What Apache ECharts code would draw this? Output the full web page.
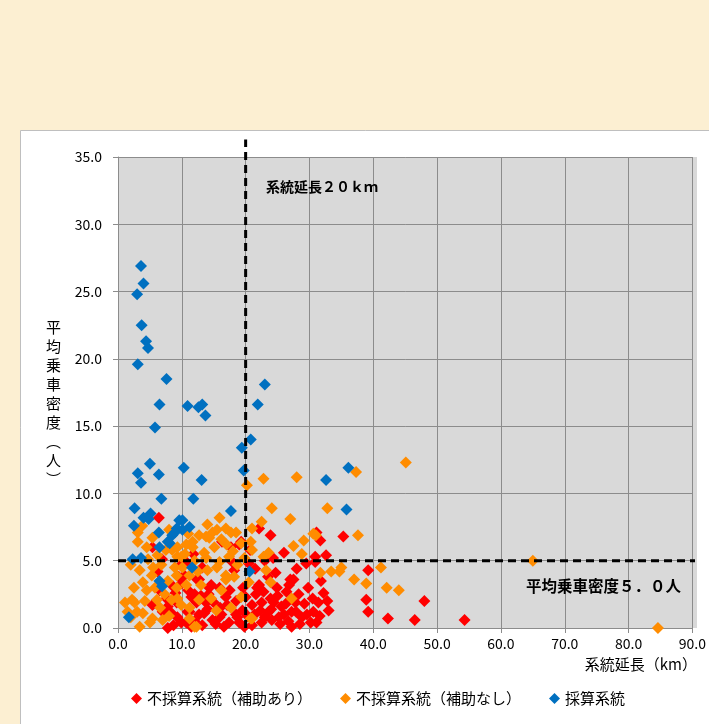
<!DOCTYPE html>
<html>
<head>
<meta charset="utf-8">
<script src="https://cdn.jsdelivr.net/npm/echarts@6/dist/echarts.min.js"></script>
<style>
  html, body { margin: 0; padding: 0; background: #FCEFD2; }
  #chart { width: 709px; height: 724px; }
</style>
</head>
<body>
<div id="chart"></div>
<script>
// 系列名
var seriesNames = ['不採算系統（補助あり）', '不採算系統（補助なし）', '採算系統'];

// [系統延長(km), 平均乗車密度(人)]
var redPoints = [
  [54.3,0.6],[48.0,2.0],[46.5,0.6],[42.3,0.7],[39.2,1.2],[38.9,2.1],[39.2,4.3],[35.3,6.8],[32.6,5.4],
  [31.7,6.5],[31.1,7.1],[31.4,1.9],[33.0,1.3],[31.1,0.4],[23.9,6.9],[24.7,4.1],[27.0,3.6],[29.5,4.8],
  [30.9,4.9],[26.4,2.7],[28.3,2.5],[22.1,7.4],[30.9,5.3],[22.1,3.2],[21.6,2.5],[22.5,1.9],[21.0,1.7],
  [24.4,1.9],[25.6,1.6],[23.6,1.2],[25.2,0.8],[27.2,1.2],[28.8,0.8],[30.6,1.2],[22.5,0.4],[27.2,0.1],
  [30.2,0.4],[21.0,0.2],[17.7,6.0],[19.0,6.2],[16.3,6.4],[10.7,4.9],[10.4,3.9],[12.7,3.6],[14.6,3.2],
  [15.9,3.0],[20.0,2.3],[11.5,2.3],[12.3,1.9],[13.8,1.9],[10.9,1.2],[13.5,1.1],[16.2,1.0],[18.7,0.8],
  [14.8,0.6],[17.4,0.4],[10.7,0.4],[17.1,1.7],[6.4,8.2],[5.4,6.0],[6.2,4.2],[5.4,1.7],[7.8,1.6],
  [8.4,1.1],[9.3,0.8],[9.9,0.4],[7.8,0.0],[9.9,4.7],[13.2,4.5],[12.4,3.6],[19.3,6.4],[17.9,4.9],
  [18.2,4.3],[14.3,3.0],[16.9,2.3],[7.6,2.2],[9.2,1.9],[11.2,1.2],[12.7,1.0],[15.9,0.8],[18.5,1.0],
  [19.0,0.4],[21.8,3.0],[23.9,2.2],[24.9,3.0],[27.5,3.6],[22.3,1.3],[24.1,0.6],[26.0,1.0],[27.9,1.2],
  [20.7,5.8],[21.5,4.4],[26.0,5.6],[28.0,4.4],[29.8,3.0],[31.8,3.5],[32.2,2.6],[29.2,1.8],[26.7,0.5],
  [23.0,5.0],[19.6,3.0],[8.6,3.1],[6.9,5.1],[11.8,5.5],
  [9.0,2.6],[10.0,3.3],[11.0,2.8],[12.0,2.5],[13.0,2.4],[14.0,1.4],[15.0,1.9],[16.0,1.5],[17.5,2.8],
  [18.5,2.0],[19.5,1.3],[20.3,0.9],[21.4,1.0],[23.0,0.8],[24.0,1.4],[25.0,2.4],[26.3,1.8],[27.8,1.9],
  [28.5,0.3],[29.6,1.0],[30.5,2.2],[31.6,0.9],[32.8,2.0],[12.0,0.5],[13.2,0.2],[15.3,0.3],[16.6,0.1],
  [19.8,0.1],[8.7,0.2],[11.5,0.1],[14.2,2.5],[22.8,2.7],[25.4,0.3],[26.8,3.2],[23.5,3.8],[9.5,3.8],
  [7.0,1.2],[6.5,2.8],[20.5,4.8],[24.3,5.2]
];
var orangePoints = [
  [84.6,0.0],[65.0,5.0],[45.1,12.3],[37.3,11.6],[32.8,8.9],[37.6,6.9],[31.7,4.1],[33.4,4.2],[34.7,4.2],
  [35.0,4.5],[37.0,3.6],[38.9,3.3],[41.2,4.5],[42.1,3.0],[44.0,2.8],[31.0,6.9],[28.0,11.2],[22.8,11.1],
  [20.2,10.6],[24.1,8.9],[27.0,8.1],[22.5,7.9],[21.0,7.4],[30.6,7.0],[29.1,6.5],[27.5,6.1],[28.8,5.5],
  [23.6,5.6],[22.8,5.3],[20.8,6.4],[18.5,7.1],[19.3,6.3],[23.9,3.4],[27.2,2.2],[19.3,2.3],[21.0,0.7],
  [15.9,8.2],[17.7,7.1],[14.0,7.7],[12.7,6.9],[14.3,6.7],[14.8,7.1],[11.7,6.4],[10.7,6.2],[15.9,4.9],
  [17.4,5.3],[18.7,4.7],[20.5,3.4],[16.9,3.9],[18.2,3.8],[10.7,3.2],[12.7,2.1],[15.4,1.3],[17.7,1.5],
  [11.2,0.7],[12.3,0.1],[9.9,1.7],[3.1,7.1],[3.1,6.4],[5.4,6.7],[3.4,4.3],[4.7,5.1],[9.3,5.3],
  [9.2,3.9],[5.3,3.9],[3.9,3.4],[1.1,1.9],[2.6,1.9],[3.9,1.1],[3.0,1.2],[3.4,0.1],[6.1,2.1],
  [7.3,2.5],[8.4,2.1],[5.4,0.7],[7.0,0.6],[5.0,0.4],[9.2,3.0],[9.3,2.2],[6.2,5.4],[9.3,6.0],
  [15.5,7.3],[16.9,7.4],[13.8,6.8],[15.1,6.0],[11.7,6.0],[9.9,5.3],[8.9,4.5],[10.1,4.5],[11.2,3.9],
  [15.5,4.5],[16.9,3.6],[14.6,2.2],[11.2,1.5],[12.0,0.1],[2.2,2.1],[21.0,5.8],[23.2,4.3],[20.8,0.7],
  [7.5,5.8],[8.0,7.3],[12.0,5.0],[13.5,5.6],[17.0,6.2],[6.8,4.7],[4.5,2.8],[7.8,3.5],[13.0,3.2],
  [14.0,4.3],[16.2,2.8],[2.0,0.8],
  [1.5,1.2],[2.5,3.0],[4.2,2.0],[5.8,3.0],[6.6,1.5],[8.0,0.9],[4.5,6.0],[2.0,4.7],[5.5,4.5],
  [8.5,5.8],[10.5,5.5],[12.5,4.2],[13.8,5.2],[3.8,7.6],[16.2,6.6],[11.0,7.0],[19.8,5.2],[18.0,5.7]
];
var bluePoints = [
  [3.6,26.9],[4.0,25.6],[3.0,24.8],[3.7,22.5],[4.4,21.3],[4.7,20.8],[3.1,19.6],[7.6,18.5],[6.5,16.6],
  [10.9,16.5],[12.6,16.4],[13.2,16.6],[13.7,15.8],[5.8,14.9],[23.0,18.1],[21.9,16.6],[20.8,14.0],
  [19.4,13.4],[19.7,11.7],[5.0,12.2],[3.1,11.5],[3.6,10.8],[6.4,11.4],[10.3,11.9],[13.1,11.0],
  [32.6,11.0],[36.1,11.9],[35.8,8.8],[2.6,8.9],[6.8,9.6],[11.8,9.6],[17.7,8.7],[4.0,8.2],[5.1,8.5],
  [4.8,8.1],[2.5,7.6],[6.4,7.1],[9.2,7.4],[9.6,8.0],[8.5,6.9],[10.1,7.3],[11.2,7.5],[10.1,8.0],
  [6.5,6.0],[8.1,6.3],[2.3,5.1],[3.6,5.2],[11.6,4.5],[20.6,4.2],[6.5,3.5],[6.9,3.1],[1.7,0.8],
  [7.8,6.4],[8.9,7.1]
];

// 基準線 (系統延長20km, 平均乗車密度5.0人)
var lengthLine = [[20, 0], [20, 36.3]];
var densityLine = [[0, 5], [91.6, 5]];

var font = '"Noto Sans CJK JP", "Noto Sans", sans-serif';
var chart = echarts.init(document.getElementById('chart'));

function scatter(name, data, color) {
  return {
    name: name,
    type: 'scatter',
    data: data,
    symbol: 'diamond',
    symbolSize: 12,
    itemStyle: { color: color, opacity: 1 },
    emphasis: { disabled: true },
    clip: false
  };
}

function refLine(data) {
  return {
    type: 'line',
    data: data,
    symbol: 'none',
    silent: true,
    clip: false,
    z: 10,
    lineStyle: { color: '#000', type: [8, 5], width: 3 }
  };
}

chart.setOption({
  animation: false,
  backgroundColor: '#FCEFD2',
  textStyle: { fontFamily: font },
  grid: { left: 118, top: 157, width: 579, height: 471 },
  xAxis: {
    type: 'value', min: 0, max: 90, interval: 10,
    axisLine: { lineStyle: { color: '#8C8C8C' } },
    axisTick: { show: true, length: 5, lineStyle: { color: '#8C8C8C' } },
    axisLabel: { color: '#000', fontSize: 14, margin: 9, formatter: function (v) { return v.toFixed(1); } },
    splitLine: { show: true, lineStyle: { color: '#8C8C8C' } }
  },
  yAxis: {
    type: 'value', min: 0, max: 35, interval: 5,
    axisLine: { show: true, lineStyle: { color: '#8C8C8C' } },
    axisTick: { show: true, length: 5, lineStyle: { color: '#8C8C8C' } },
    axisLabel: { color: '#000', fontSize: 14, margin: 16, formatter: function (v) { return v.toFixed(1); } },
    splitLine: { show: true, lineStyle: { color: '#8C8C8C' } }
  },
  legend: {
    data: seriesNames,
    left: 126, top: 686,
    itemGap: 28, itemWidth: 11, itemHeight: 11,
    icon: 'diamond',
    textStyle: { fontSize: 15, color: '#000', fontFamily: font }
  },
  graphic: [
    { type: 'rect', z: -10, silent: true,
      shape: { x: 20.5, y: 130.5, width: 700, height: 600 },
      style: { fill: '#FFFFFF', stroke: '#BFBFBF', lineWidth: 1 } },
    { type: 'rect', z: -5, silent: true,
      shape: { x: 118, y: 157, width: 579, height: 471 },
      style: { fill: '#D9D9D9' } },
    { type: 'text', left: 266, top: 180, silent: true, z: 100,
      style: { text: '系統延長２０ｋｍ', font: 'bold 14px ' + font, fill: '#000' } },
    { type: 'text', left: 526, top: 578, silent: true, z: 100,
      style: { text: '平均乗車密度５．０人', font: 'bold 15.5px ' + font, fill: '#000' } },
    { type: 'text', right: 12, top: 657, silent: true,
      style: { text: '系統延長（km）', font: '15px ' + font, fill: '#000' } },
    { type: 'text', left: 46, top: 318, silent: true,
      style: { text: '平\n均\n乗\n車\n密\n度\n︵\n人\n︶', font: '15px ' + font, fill: '#000', lineHeight: 19 } }
  ],
  series: [
    scatter(seriesNames[0], redPoints, '#FF0000'),
    scatter(seriesNames[1], orangePoints, '#FF8C00'),
    scatter(seriesNames[2], bluePoints, '#0070C0'),
    refLine(lengthLine),
    refLine(densityLine)
  ]
});
</script>
</body>
</html>
